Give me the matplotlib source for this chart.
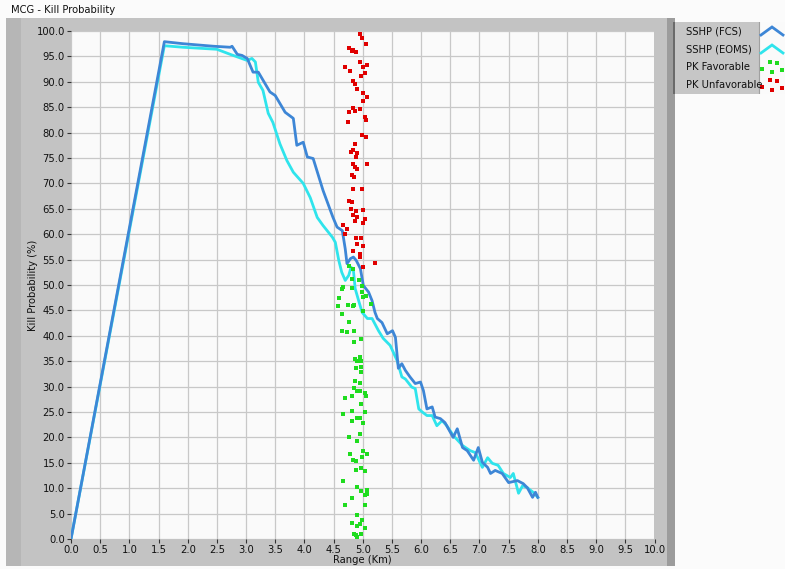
import matplotlib
matplotlib.use("Agg")
import matplotlib.pyplot as plt
from matplotlib.patches import Rectangle
from matplotlib.ticker import MultipleLocator, FormatStrFormatter

W, H = 785, 569

# ---------- DATA ----------
fcs_range = [0, 1.6, 1.92, 2.44, 2.73, 2.76, 2.85, 2.93, 3.02, 3.12, 3.21, 3.41, 3.5,
             3.67, 3.81, 3.87, 3.98, 4.05, 4.15, 4.32, 4.49, 4.56, 4.65, 4.70, 4.73,
             4.79, 4.84, 4.89, 4.96, 5.01, 5.10, 5.16, 5.21, 5.25, 5.33, 5.42, 5.51,
             5.56, 5.61, 5.67, 5.73, 5.81, 5.90, 5.99, 6.04, 6.10, 6.19, 6.24, 6.33,
             6.41, 6.55, 6.62, 6.71, 6.79, 6.90, 6.98, 7.05, 7.14, 7.19, 7.27, 7.39,
             7.50, 7.65, 7.75, 7.82, 7.91, 7.96, 8.0]
fcs_pk = [0, 97.9, 97.5, 97.0, 96.8, 97.0, 95.4, 95.2, 94.6, 91.9, 91.9, 88.0, 87.3,
          84.0, 82.8, 77.5, 78.1, 75.2, 74.9, 68.6, 63.3, 61.4, 60.7, 57.1, 54.2,
          55.2, 55.5, 54.8, 53.2, 49.9, 48.6, 46.9, 44.6, 43.4, 42.6, 40.4, 41.0,
          39.7, 33.6, 34.5, 33.2, 31.9, 30.6, 30.9, 29.2, 25.6, 26.0, 24.0, 23.7,
          22.9, 20.0, 21.7, 18.0, 17.4, 15.5, 18.0, 15.1, 14.1, 12.9, 13.5, 12.9,
          11.1, 11.5, 10.9, 10.1, 8.2, 9.2, 8.2]

eoms_range = [0, 1.6, 1.92, 2.5, 2.73, 3.02, 3.1, 3.16, 3.21, 3.29, 3.38, 3.46, 3.58,
              3.70, 3.81, 3.98, 4.10, 4.22, 4.32, 4.48, 4.53, 4.59, 4.64, 4.70, 4.76,
              4.80, 4.84, 4.87, 4.93, 4.99, 5.08, 5.16, 5.27, 5.35, 5.47, 5.59, 5.67,
              5.73, 5.84, 5.90, 5.96, 6.02, 6.10, 6.19, 6.27, 6.36, 6.44, 6.55, 6.71,
              6.84, 6.93, 7.05, 7.14, 7.22, 7.32, 7.41, 7.53, 7.58, 7.67, 7.74, 7.82,
              7.92, 8.0]
eoms_pk = [0, 97.1, 96.8, 96.4, 95.4, 94.2, 94.6, 93.9, 89.9, 88.3, 83.8, 82.0, 77.8,
           74.5, 72.2, 70.0, 67.2, 63.3, 61.7, 59.4, 58.4, 54.8, 52.5, 50.9, 51.9,
           53.5, 52.9, 49.3, 46.9, 44.6, 43.4, 43.4, 41.0, 39.5, 38.1, 35.1, 31.9,
           31.5, 29.9, 29.6, 25.6, 25.0, 24.3, 24.3, 22.3, 23.3, 22.3, 20.4, 18.4,
           17.4, 17.0, 14.1, 16.0, 14.9, 14.5, 12.9, 12.1, 12.9, 9.0, 10.5, 10.1,
           9.2, 8.2]

fav_range = [4.76, 4.84, 4.81, 4.67, 4.64, 4.59, 4.74, 4.85, 4.99, 4.99, 5.01, 5.06,
             5.14, 5.00, 4.64, 4.77, 4.64, 4.73, 4.85, 4.85, 4.97, 4.87, 4.90, 4.95,
             4.97, 4.89, 4.97, 4.97, 4.87, 4.96, 4.85, 4.91, 4.96, 5.04, 5.06, 4.81,
             4.70, 4.97, 4.66, 4.81, 5.04, 4.91, 4.95, 4.81, 5.00, 4.95, 4.77, 4.91,
             4.79, 4.84, 4.89, 5.01, 5.07, 4.99, 4.89, 4.97, 5.04, 4.67, 4.90, 5.07,
             4.97, 5.07, 4.81, 5.04, 4.70, 5.04, 4.90, 4.99, 4.81, 4.96, 4.91, 5.04,
             4.85, 4.89, 4.97, 4.90, 4.82, 4.58, 4.84, 4.93]
fav_pk = [53.8, 53.2, 51.2, 49.6, 49.3, 47.5, 46.0, 46.0, 49.9, 48.6, 47.6, 47.9,
          46.2, 44.8, 44.2, 42.7, 40.9, 40.7, 41.0, 38.7, 39.3, 35.5, 35.1, 35.8,
          35.1, 33.7, 33.8, 32.8, 31.2, 30.7, 29.7, 29.2, 29.1, 28.7, 28.1, 28.2,
          27.7, 26.5, 24.6, 25.2, 25.0, 23.9, 23.9, 23.3, 22.8, 20.7, 20.0, 19.3,
          16.8, 15.6, 15.3, 17.3, 16.8, 16.1, 13.6, 14.0, 13.3, 11.5, 10.3, 9.7,
          9.4, 8.9, 8.1, 8.6, 6.6, 6.6, 4.8, 3.8, 3.1, 3.0, 2.5, 2.2,
          1.0, 0.7, 1.0, 0.4, 49.4, 45.8, 45.8, 51.0]

unfav_range = [4.95, 4.99, 5.06, 4.76, 4.84, 4.89, 4.81, 4.70, 4.79, 4.95, 5.00, 5.08,
               5.04, 4.97, 4.83, 4.87, 4.91, 5.01, 5.07, 5.01, 4.84, 4.87, 4.95, 4.76,
               4.74, 5.04, 5.06, 4.99, 5.06, 4.87, 4.80, 4.84, 4.91, 4.89, 4.84, 4.87,
               4.91, 5.08, 4.81, 4.85, 4.84, 4.99, 4.76, 4.81, 4.80, 4.89, 5.00, 4.84,
               4.91, 4.86, 5.04, 5.01, 4.66, 4.73, 4.70, 4.89, 4.97, 4.91, 5.01, 4.83,
               4.95, 4.96, 5.01, 5.21]
unfav_pk = [99.4, 98.6, 97.5, 96.7, 96.3, 95.8, 96.0, 93.0, 92.1, 93.9, 93.0, 93.4,
            91.8, 91.1, 90.1, 89.6, 88.6, 87.8, 87.0, 86.3, 84.9, 84.2, 84.6, 84.0,
            82.0, 83.0, 82.5, 79.6, 79.1, 77.7, 76.1, 76.5, 75.9, 75.2, 73.9, 73.2,
            72.9, 73.9, 71.6, 71.2, 68.9, 68.9, 66.6, 66.3, 65.0, 64.5, 64.7, 63.7,
            63.3, 62.6, 63.0, 62.2, 61.9, 61.1, 60.1, 59.3, 59.3, 58.0, 57.6, 56.6,
            56.1, 55.6, 53.6, 54.3]

legend_names = ["SSHP (FCS)", "SSHP (EOMS)", "PK Favorable", "PK Unfavorable"]

FCS_COLOR = "#3d86d6"
EOMS_COLOR = "#2fe4ec"
FAV_COLOR = "#1fdc1f"
UNFAV_COLOR = "#e00000"
FONT = 7.2


def fx(px):
    return px / W


def fy(py):
    return 1 - py / H


def panel(fig, x0, y0, x1, y1, color, z=0):
    fig.add_artist(Rectangle((fx(x0), fy(y1)), (x1 - x0) / W, (y1 - y0) / H,
                             transform=fig.transFigure, facecolor=color,
                             edgecolor="none", zorder=z))


fig = plt.figure(figsize=(W / 100, H / 100), dpi=100)
fig.patch.set_facecolor("#fbfbfb")

# ---------- frame like the LabVIEW panel ----------
panel(fig, 6, 18, 667, 566, "#c3c3c3")
panel(fig, 6, 18, 21, 566, "#b6b6b6")
panel(fig, 667, 18, 675, 566, "#9c9c9c")
panel(fig, 675, 18, 785, 566, "#fbfbfb")

fig.text(fx(11), fy(10), "MCG - Kill Probability", fontsize=FONT,
         va="center", ha="left", color="#111111")

# ---------- plot ----------
ax = fig.add_axes([fx(71), fy(539), (654.5 - 71) / W, (539 - 31) / H])
ax.set_facecolor("#fafafa")
ax.set_xlim(0, 10)
ax.set_ylim(0, 100)
ax.xaxis.set_major_locator(MultipleLocator(0.5))
ax.yaxis.set_major_locator(MultipleLocator(5))
ax.xaxis.set_major_formatter(FormatStrFormatter("%.1f"))
ax.yaxis.set_major_formatter(FormatStrFormatter("%.1f"))
ax.grid(True, color="#c8c8c8", lw=0.9)
ax.set_axisbelow(True)
for s in ax.spines.values():
    s.set_visible(False)
ax.tick_params(direction="out", length=3, width=0.8, color="#333333",
               labelsize=FONT, pad=1.5, labelcolor="#111111")

ax.plot(fcs_range, fcs_pk, color=FCS_COLOR, lw=2.0, zorder=3)
ax.plot(eoms_range, eoms_pk, color=EOMS_COLOR, lw=2.0, zorder=2)
ax.scatter(fav_range, fav_pk, marker="s", s=9, color=FAV_COLOR, lw=0, zorder=4)
ax.scatter(unfav_range, unfav_pk, marker="s", s=9, color=UNFAV_COLOR, lw=0, zorder=4)

fig.text(fx(33), fy(285), "Kill Probability (%)", rotation=90, fontsize=FONT,
         va="center", ha="center", color="#111111")
fig.text(fx(362), fy(560), "Range (Km)", fontsize=FONT,
         va="center", ha="center", color="#111111")

# ---------- legend panel ----------
lg = fig.add_axes([fx(673), fy(94), (785 - 673) / W, (94 - 22) / H])
lg.set_xlim(0, 112)
lg.set_ylim(72, 0)
lg.set_autoscale_on(False)
lg.axis("off")
lg.add_patch(Rectangle((0, 0), 112, 72, facecolor="#c6c6c6", edgecolor="none"))
lg.add_patch(Rectangle((0, 0), 2, 72, facecolor="#6a6a6a", edgecolor="none"))
lg.add_patch(Rectangle((86, 0), 26, 72, facecolor="#fafafa", edgecolor="none"))
lg.plot([86, 86], [0, 72], color="#a0a0a0", lw=0.8)
row_h = 18
colors = [FCS_COLOR, EOMS_COLOR, FAV_COLOR, UNFAV_COLOR]
for i, (name, c) in enumerate(zip(legend_names, colors)):
    yc = row_h * i + 9
    lg.text(13, yc, name, fontsize=FONT, va="center", ha="left", color="#111111")
    if i < 2:
        lg.plot([88, 99, 110], [yc + 4, yc - 4, yc + 4], color=c, lw=2.0,
                solid_joinstyle="miter")
    else:
        lg.scatter([97, 104, 89, 99, 109], [yc - 5, yc - 4, yc + 2, yc + 5, yc + 3],
                   marker="s", s=9, color=c, lw=0)

fig.savefig("out.png", dpi=100, facecolor=fig.get_facecolor())
